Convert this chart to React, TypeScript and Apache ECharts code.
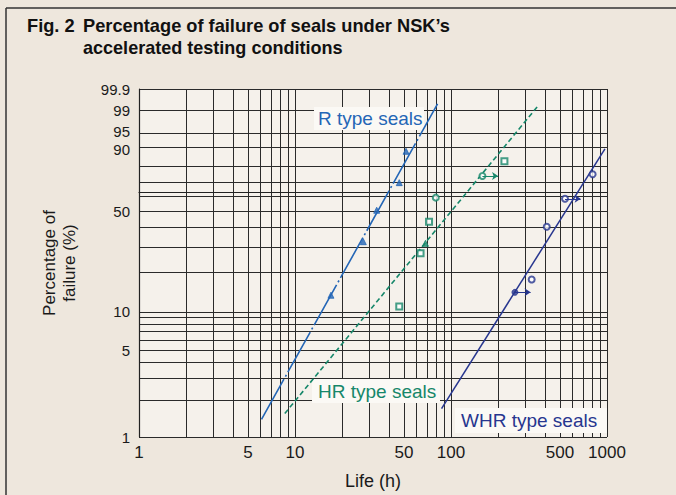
import React, { useEffect, useRef } from 'react';
import * as echarts from 'echarts';

// ---- tick / grid values ----
const xLabelHours = [1, 5, 10, 50, 100, 500, 1000];
const xGridHours = [1, 2, 3, 4, 5, 6, 7, 8, 9, 10, 20, 30, 40, 50, 60, 70, 80, 90, 100, 200, 300, 400, 500, 600, 700, 800, 900, 1000];
const yLabelPcts = [1, 5, 10, 50, 90, 95, 99, 99.9];
const yGridPcts = [1, 2, 3, 4, 5, 6, 7, 8, 9, 10, 20, 30, 40, 50, 60, 70, 80, 90, 95, 99, 99.9];

// ---- fitted Weibull lines (life in h, % failed) ----
const rFitHours = [6.1, 82];
const rFitPct = [1.39, 99.46];
const hrFitHours = [8.6, 366];
const hrFitPct = [1.55, 99.41];
const whrFitHours = [87, 970];
const whrFitPct = [1.7, 89.4];

// ---- test points ----
const rHours = [17.0, 27.4, 33.4, 46.6, 51.5];
const rPct = [13.4, 32.5, 50.8, 69.6, 88.3];
const rSymbols = ['triangle', 'triangle', 'triangle', 'triangle', 'triangle'];

const hrHours = [46.6, 63.8, 68.6, 72.3, 79.9, 159, 220];
const hrPct = [11.0, 27.1, 31.7, 43.5, 59.3, 74.0, 83.1];
const hrSymbols = ['emptyRect', 'emptyRect', 'triangle', 'emptyRect', 'emptyCircle', 'emptyCircle', 'emptyRect'];
const hrSuspended = [5];

const whrHours = [257, 329, 411, 538, 809];
const whrPct = [14.1, 17.6, 40.6, 58.5, 75.2];
const whrSymbols = ['circle', 'emptyCircle', 'emptyCircle', 'emptyCircle', 'emptyCircle'];
const whrSuspended = [0, 3];

const R_COLOR = '#2466b6';
const HR_COLOR = '#16876a';
const WHR_COLOR = '#27368f';
const FONT = '"Liberation Sans", Arial, Helvetica, sans-serif';

const lg = (h: number) => Math.log10(h);
const weib = (p: number) => Math.log(-Math.log(1 - p / 100));

function pointSeries(name: string, hours: number[], pct: number[], symbols: string[], color: string, suspended: number[]) {
  return {
    name,
    type: 'scatter',
    z: 4,
    data: hours.map((h, i) => ({
      value: [lg(h), weib(pct[i])],
      symbol: symbols[i],
      symbolSize: 6,
    })),
    itemStyle: { color, borderColor: color, borderWidth: 1 },
    markLine: {
      silent: true,
      symbol: ['none', 'arrow'],
      symbolSize: 6,
      label: { show: false },
      lineStyle: { color, width: 1, type: 'solid' },
      data: suspended.map((i) => [
        { coord: [lg(hours[i]), weib(pct[i])] },
        { coord: [lg(hours[i] * 1.26), weib(pct[i])] },
      ]),
    },
  };
}

function fitSeries(name: string, hours: number[], pct: number[], color: string, type: any, width: number) {
  return {
    name,
    type: 'line',
    z: 3,
    showSymbol: false,
    symbol: 'none',
    data: hours.map((h, i) => [lg(h), weib(pct[i])]),
    lineStyle: { color, width, type },
  };
}

export default function App() {
  const ref = useRef<HTMLDivElement>(null);
  useEffect(() => {
    if (!ref.current) return;
    const chart = echarts.init(ref.current, null, { renderer: 'svg' });
    const titleFont = `bold 19px ${FONT}`;
    const yTickStyle = { fontFamily: FONT, fontSize: 15, color: '#1a1a1a' };
    const option: any = {
      animation: false,
      backgroundColor: '#eee7dd',
      grid: {
        left: 139,
        right: 69,
        top: 89,
        bottom: 52,
        show: true,
        backgroundColor: '#f5f1eb',
        borderWidth: 0,
      },
      xAxis: {
        type: 'value',
        min: 0,
        max: 3,
        name: 'Life (h)',
        nameLocation: 'middle',
        nameGap: 35,
        nameTextStyle: { fontFamily: FONT, fontSize: 18, color: '#1a1a1a' },
        axisLine: { show: true, lineStyle: { color: '#222', width: 1.2 } },
        axisTick: { show: false, customValues: xGridHours.map(lg) },
        axisLabel: {
          customValues: xLabelHours.map(lg),
          formatter: (v: number) => String(Math.round(Math.pow(10, v))),
          fontFamily: FONT,
          fontSize: 17,
          color: '#1a1a1a',
          margin: 7,
        },
        splitLine: { show: true, lineStyle: { color: '#2a2a2a', width: 1 } },
      },
      yAxis: {
        type: 'value',
        min: weib(1),
        max: weib(99.9),
        name: 'Percentage of\nfailure (%)',
        nameLocation: 'middle',
        nameRotate: 90,
        nameGap: 60,
        nameTextStyle: { fontFamily: FONT, fontSize: 17, color: '#1a1a1a', lineHeight: 20 },
        axisLine: { show: true, lineStyle: { color: '#222', width: 1.2 } },
        axisTick: { show: false, customValues: yGridPcts.map(weib) },
        axisLabel: {
          customValues: yLabelPcts.map(weib),
          formatter: (v: number) => {
            let best = yLabelPcts[0];
            let bd = Infinity;
            yLabelPcts.forEach((p) => {
              const d = Math.abs(weib(p) - v);
              if (d < bd) { bd = d; best = p; }
            });
            if (best === 95) return `{up|${best}}`;
            if (best === 90) return `{dn|${best}}`;
            return `{n|${best}}`;
          },
          ...yTickStyle,
          margin: 9,
          rich: {
            n: { ...yTickStyle, lineHeight: 15 },
            up: { ...yTickStyle, lineHeight: 15, padding: [0, 0, 4, 0] },
            dn: { ...yTickStyle, lineHeight: 15, padding: [4, 0, 0, 0] },
          },
        },
        splitLine: { show: true, lineStyle: { color: '#2a2a2a', width: 1 } },
      },
      series: [
        fitSeries('R type seals', rFitHours, rFitPct, R_COLOR, [46, 3, 2, 3], 1.6),
        fitSeries('HR type seals', hrFitHours, hrFitPct, HR_COLOR, [5, 3], 1.6),
        fitSeries('WHR type seals', whrFitHours, whrFitPct, WHR_COLOR, 'solid', 1.5),
        pointSeries('R points', rHours, rPct, rSymbols, R_COLOR, []),
        pointSeries('HR points', hrHours, hrPct, hrSymbols, HR_COLOR, hrSuspended),
        pointSeries('WHR points', whrHours, whrPct, whrSymbols, WHR_COLOR, whrSuspended),
      ],
      graphic: [
        { type: 'line', z: 5, shape: { x1: 6, y1: 8, x2: 676, y2: 8 }, style: { stroke: '#333', lineWidth: 1.5 } },
        { type: 'line', z: 5, shape: { x1: 6, y1: 8, x2: 6, y2: 495 }, style: { stroke: '#333', lineWidth: 1.5 } },
        { type: 'text', z: 5, x: 27, y: 25.5, scaleX: 0.96, style: { text: 'Fig. 2', font: titleFont, fill: '#111', align: 'left', verticalAlign: 'middle' } },
        { type: 'text', z: 5, x: 83, y: 25.5, scaleX: 0.96, style: { text: 'Percentage of failure of seals under NSK’s', font: titleFont, fill: '#111', align: 'left', verticalAlign: 'middle' } },
        { type: 'text', z: 5, x: 83, y: 47, scaleX: 0.95, style: { text: 'accelerated testing conditions', font: titleFont, fill: '#111', align: 'left', verticalAlign: 'middle' } },
        { type: 'rect', z: 1, shape: { x: 314, y: 107, width: 110, height: 23 }, style: { fill: '#fbf9f5' } },
        { type: 'text', z: 1, x: 318, y: 118, style: { text: 'R type seals', font: `19px ${FONT}`, fill: R_COLOR, align: 'left', verticalAlign: 'middle' } },
        { type: 'rect', z: 1, shape: { x: 312, y: 379, width: 128, height: 24 }, style: { fill: '#fbf9f5' } },
        { type: 'text', z: 1, x: 318, y: 391, style: { text: 'HR type seals', font: `19px ${FONT}`, fill: HR_COLOR, align: 'left', verticalAlign: 'middle' } },
        { type: 'rect', z: 1, shape: { x: 455, y: 408, width: 152, height: 25 }, style: { fill: '#fbf9f5' } },
        { type: 'text', z: 1, x: 461, y: 420, style: { text: 'WHR type seals', font: `19px ${FONT}`, fill: WHR_COLOR, align: 'left', verticalAlign: 'middle' } },
      ],
    };
    chart.setOption(option);
    return () => chart.dispose();
  }, []);
  return <div ref={ref} style={{ position: 'fixed', left: 0, top: 0, width: 676, height: 495 }} />;
}
